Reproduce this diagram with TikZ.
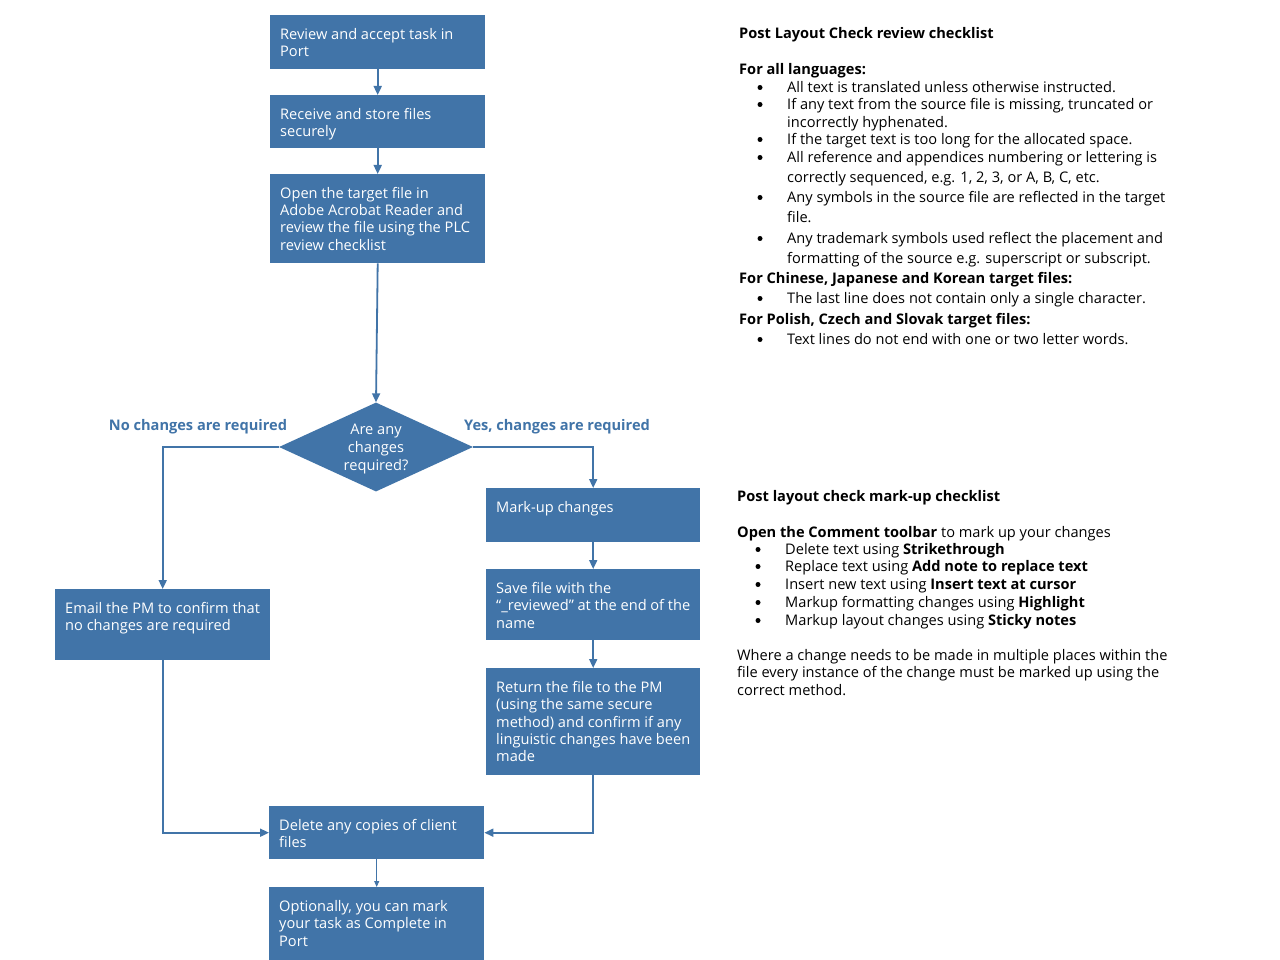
\documentclass[tikz,border=0pt]{standalone}
\usepackage{fontspec}
\setmainfont{Open Sans}
\usetikzlibrary{arrows.meta,shapes.geometric}
\definecolor{myblue}{RGB}{65,116,168}
\newcommand\myfont{\fontsize{14.6}{17.4}\selectfont}
\newcommand\bxt[3]{\parbox[t][#2pt][t]{#1pt}{\raggedright\rule{0pt}{24pt}\ignorespaces#3}}
\tikzset{
  fbox/.style={fill=myblue, inner xsep=10pt, inner ysep=0pt, anchor=north west, text=white, align=left},
  conn/.style={draw=myblue, line width=1.8pt, -{Triangle[length=9pt,width=8pt]}},
  thinconn/.style={draw=myblue, line width=1pt, -{Triangle[length=6pt,width=5pt]}},
  lbl/.style={text=myblue, font=\myfont\bfseries, anchor=base, inner sep=0pt},
  tx/.style={anchor=base west, inner sep=0pt, text=black},
  btx/.style={anchor=base west, inner sep=0pt, text=black, font=\myfont\bfseries},
  bul/.style={circle, fill=black, inner sep=0pt, minimum size=5pt},
}
\begin{document}
\begin{tikzpicture}[x=1pt,y=-1pt,font=\myfont]
\useasboundingbox[fill=white] (0,0) rectangle (1280,960);
% flowchart boxes
\node[fbox] (review) at (270,15) {\bxt{195}{54}{Review and accept task in Port}};
\node[fbox] (receive) at (270,95) {\bxt{195}{53}{Receive and store files securely}};
\node[fbox] (open) at (270,174) {\bxt{195}{89}{Open the target file in Adobe Acrobat Reader and review the file using the PLC review checklist}};
\node[diamond, fill=myblue, inner sep=0pt, minimum width=194pt, minimum height=89pt] (dia) at (376,447) {};
\node[text=white, align=center, inner sep=0pt, font=\fontsize{14.6}{18}\selectfont] (diatext) at (376,449) {Are any\\changes\\required?};
\node[fbox] (markup) at (486,488) {\bxt{194}{54}{Mark-up changes}};
\node[fbox] (save) at (486,569) {\bxt{194}{71}{Save file with the \mbox{“\_reviewed”} at the end of the name}};
\node[fbox] (return) at (486,668) {\bxt{194}{107}{Return the file to the PM (using the same secure method) and confirm if any linguistic changes have been made}};
\node[fbox] (email) at (55,589) {\bxt{195}{71}{Email the PM to confirm that no changes are required}};
\node[fbox] (delete) at (269,806) {\bxt{195}{53}{Delete any copies of client files}};
\node[fbox] (opt) at (269,887) {\bxt{195}{73}{Optionally, you can mark your task as Complete in Port}};
% labels
\node[lbl] (nolbl) at (198,430.5) {No changes are required};
\node[lbl] (yeslbl) at (557,430.5) {Yes, changes are required};
% connectors
\draw[conn] (review) -- (receive);
\draw[conn] (receive) -- (open);
\draw[conn] (open.south) -- (dia.north);
\draw[conn] (dia.west) -| (email.north);
\draw[conn] (dia.east) -| (markup.north);
\draw[conn] (markup) -- (save);
\draw[conn] (save) -- (return);
\draw[conn] (return.south) |- (delete.east);
\draw[conn] (email.south) |- (delete.west);
\draw[thinconn] (delete) -- (opt);
% review checklist
\node[btx] (t1) at (739,39) {Post Layout Check review checklist};
\node[btx] (t2) at (739,75) {For all languages:};
\foreach \y/\s [count=\i] in {
  92.5/{All text is translated unless otherwise instructed.},
  109.5/{If any text from the source file is missing, truncated or},
  127.5/{incorrectly hyphenated.},
  144.5/{If the target text is too long for the allocated space.},
  162.5/{All reference and appendices numbering or lettering is},
  182.5/{correctly sequenced, e.g. 1, 2, 3, or A, B, C, etc.},
  202.5/{Any symbols in the source file are reflected in the target},
  222.5/{file.},
  243.5/{Any trademark symbols used reflect the placement and},
  263.5/{formatting of the source e.g. superscript or subscript.},
  303.5/{The last line does not contain only a single character.},
  344.5/{Text lines do not end with one or two letter words.}}
  {\node[tx] (a\i) at (787,\y) {\s};}
\foreach \y [count=\i] in {92.5,109.5,144.5,162.5,202.5,243.5,303.5,344.5}
  {\node[bul] (ab\i) at (760,\y-5) {};}
\node[btx] (t3) at (739,283.5) {For Chinese, Japanese and Korean target files:};
\node[btx] (t4) at (739,324.5) {For Polish, Czech and Slovak target files:};
% mark-up checklist
\node[btx] (m1) at (737,501.5) {Post layout check mark-up checklist};
\node[tx] (m2) at (737,537.5) {\textbf{Open the Comment toolbar} to mark up your changes};
\foreach \y/\s [count=\i] in {
  554.5/{Delete text using \textbf{Strikethrough}},
  571.5/{Replace text using \textbf{Add note to replace text}},
  589.5/{Insert new text using \textbf{Insert text at cursor}},
  607.5/{Markup formatting changes using \textbf{Highlight}},
  625.5/{Markup layout changes using \textbf{Sticky notes}}}
  {\node[tx] (mb\i) at (785,\y) {\s};
   \node[bul] (mbb\i) at (758,\y-5) {};}
\node[tx] (p1) at (737,660.5) {Where a change needs to be made in multiple places within the};
\node[tx] (p2) at (737,677.5) {file every instance of the change must be marked up using the};
\node[tx] (p3) at (737,695.5) {correct method.};
\end{tikzpicture}
\end{document}
